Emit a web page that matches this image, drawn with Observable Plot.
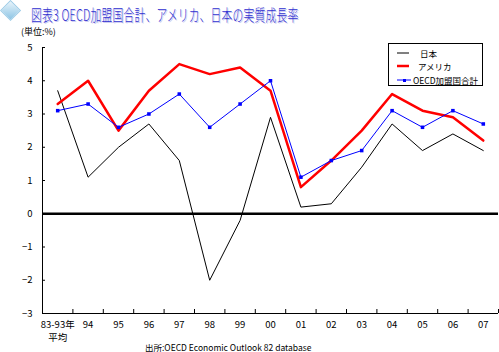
<!DOCTYPE html>
<html><head><meta charset="utf-8">
<script src="https://cdn.jsdelivr.net/npm/d3@7"></script>
<script src="https://cdn.jsdelivr.net/npm/@observablehq/plot@0.6"></script>
<style>
html,body{margin:0;padding:0;background:#fff;}
#wrap{position:relative;width:499px;height:352px;overflow:hidden;font-family:"Noto Sans CJK JP",sans-serif;color:#000;}
#wrap svg.plot{position:absolute;left:0;top:0;}
.abs{position:absolute;white-space:nowrap;}
#icon{left:3px;top:3px;width:13px;height:13px;transform:rotate(45deg);background:linear-gradient(135deg,#e8f4fb,#8cc4e4);border:1px solid #9ccbe6;}
#title{left:31px;top:1px;font-size:10.8px;font-weight:300;color:#3030d0;transform:scaleY(1.5);transform-origin:left top;text-shadow:1px 1px 0 #c8c8f0;letter-spacing:0.2px;}
#unit{left:21px;top:26px;font-size:9px;line-height:11px;}
#caption{left:145px;top:341px;font-size:8.5px;}
#legend{left:388px;top:43px;width:93px;height:41px;border:1px solid #000;background:#fff;font-size:8.5px;}
.item{position:absolute;left:0;height:12px;display:flex;align-items:center;}
.item svg{display:block;}
</style></head>
<body><div id="wrap"></div>
<script>
const categories = ["83-93年\n平均","94","95","96","97","98","99","00","01","02","03","04","05","06","07"];
const japan = [3.7,1.1,2.0,2.7,1.6,-2.0,-0.2,2.9,0.2,0.3,1.4,2.7,1.9,2.4,1.9];
const usa   = [3.3,4.0,2.5,3.7,4.5,4.2,4.4,3.7,0.8,1.6,2.5,3.6,3.1,2.9,2.2];
const oecd  = [3.1,3.3,2.6,3.0,3.6,2.6,3.3,4.0,1.1,1.6,1.9,3.1,2.6,3.1,2.7];
const yTicks = [-3,-2,-1,0,1,2,3,4,5];
const seriesNames = ["日本","アメリカ","OECD加盟国合計"];
const titleText = "図表3 OECD加盟国合計、アメリカ、日本の実質成長率";
const unitText = "(単位:%)";
const captionText = "出所:OECD Economic Outlook 82 database";

const rows = categories.map((c,i)=>({i, label:c, japan:japan[i], usa:usa[i], oecd:oecd[i]}));
const bounds = d3.range(categories.length+1).map(k=>k-0.5);

const chart = Plot.plot({
  width:499, height:352,
  marginLeft:42, marginRight:1, marginTop:47, marginBottom:39,
  style:{fontFamily:"'Noto Sans CJK JP', sans-serif", fontSize:"9.5px", background:"transparent", overflow:"visible"},
  x:{domain:[-0.5, categories.length-0.5], axis:null},
  y:{domain:[-3,5], axis:null},
  marks:[
    Plot.axisY(yTicks, {tickSize:0, tickPadding:10, label:null}),
    Plot.axisY(yTicks, {tickSize:-3, tickFormat:()=>"", label:null}),
    Plot.axisX(rows.map(d=>d.i), {tickSize:0, tickPadding:5, tickFormat:i=>categories[i], label:null, lineHeight:1.4}),
    Plot.axisX(bounds, {tickSize:-4, tickFormat:()=>"", label:null}),
    Plot.ruleX([-0.5], {stroke:"#000"}),
    Plot.ruleY([-3], {stroke:"#000"}),
    Plot.ruleY([0], {stroke:"#000", strokeWidth:2.5}),
    Plot.line(rows, {x:"i", y:"japan", stroke:"#000", strokeWidth:1}),
    Plot.line(rows, {x:"i", y:"usa", stroke:"#ff0000", strokeWidth:2.5}),
    Plot.line(rows, {x:"i", y:"oecd", stroke:"#0000ff", strokeWidth:1}),
    Plot.dot(rows, {x:"i", y:"oecd", fill:"#0000ff", stroke:null, r:2, symbol:"square"})
  ]
});
chart.classList.add("plot");
const wrap = document.getElementById("wrap");
wrap.appendChild(chart);

function addDiv(id, text){ const d=document.createElement("div"); d.id=id; d.className="abs"; if(text) d.textContent=text; wrap.appendChild(d); return d; }
addDiv("icon");
addDiv("title", titleText);
addDiv("unit", unitText);
addDiv("caption", captionText);
const legend = addDiv("legend");
const swatches = [
  {stroke:"#000", w:1, dot:false, top:3, gap:9},
  {stroke:"#ff0000", w:2.5, dot:false, top:16, gap:7},
  {stroke:"#0000ff", w:1, dot:true, top:30, gap:2}
];
seriesNames.forEach((name,k)=>{
  const s = swatches[k];
  const it = document.createElement("div"); it.className="item"; it.style.top=s.top+"px"; it.style.left="6px";
  it.innerHTML = `<svg width="16" height="10"><line x1="2" x2="${k===2?16:14}" y1="5" y2="5" stroke="${s.stroke}" stroke-width="${s.w}"/>${s.dot?'<rect x="8" y="4" width="3" height="3" fill="#0000ff"/>':''}</svg>`;
  const t = document.createElement("span"); t.textContent=name; t.style.marginLeft=s.gap+"px";
  it.appendChild(t); legend.appendChild(it);
});
</script></body></html>
